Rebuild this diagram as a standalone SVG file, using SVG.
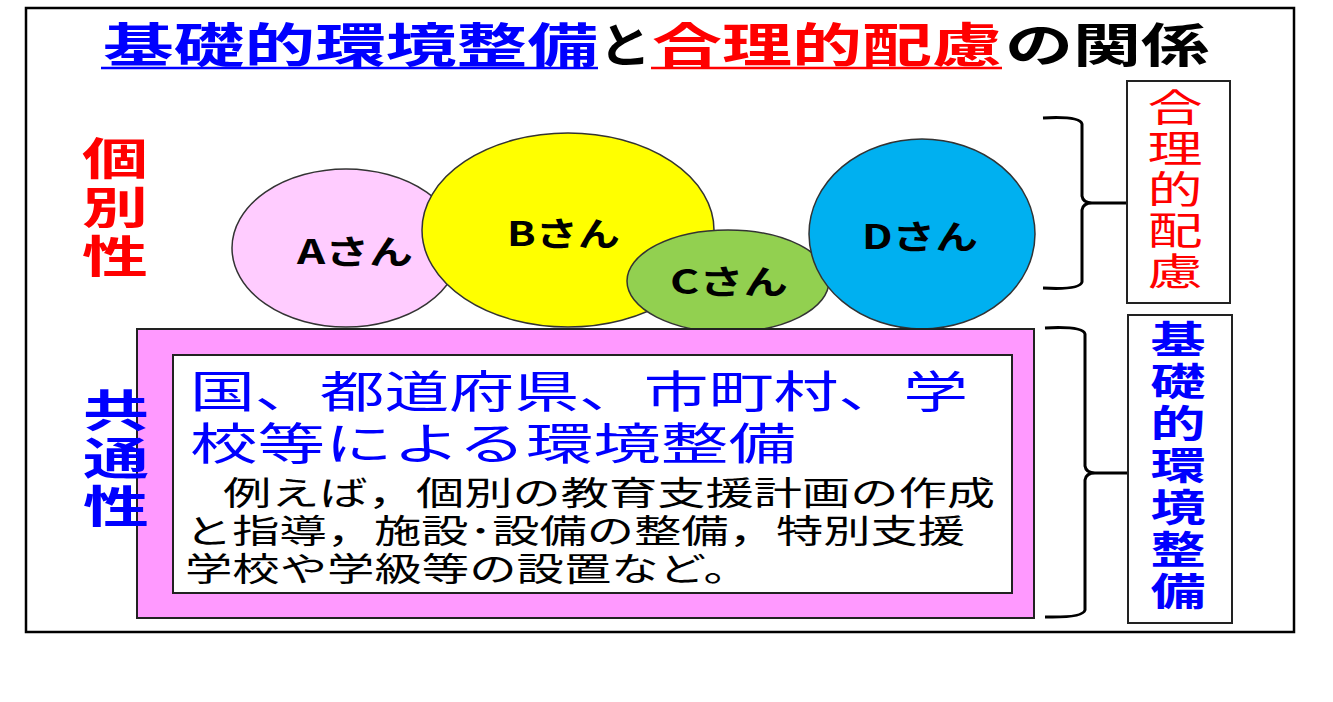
<svg xmlns="http://www.w3.org/2000/svg" width="1333" height="702" viewBox="0 0 1333 702">
<style>
text{font-family:"Noto Sans CJK JP","Noto Sans CJK SC",sans-serif}
.tight{font-family:"Liberation Sans","Noto Sans CJK JP","Noto Sans CJK SC",sans-serif}
.b{font-weight:bold}
.blue{fill:#0000FF}
.red{fill:#FF0000}
.blk{fill:#000}
.vert{writing-mode:vertical-rl}
.circ{stroke:#333;stroke-width:1.5}
.brace{fill:none;stroke:#000;stroke-width:3;stroke-linejoin:round}
.frame{fill:#fff;stroke:#222;stroke-width:2}
</style>
<rect x="0" y="0" width="1333" height="702" fill="#fff"/>
<rect x="26" y="8" width="1268" height="624" fill="#fff" stroke="#000" stroke-width="2.5"/>

<g id="title">
  <text x="103" y="62" font-size="47" class="b blue" textLength="495" lengthAdjust="spacingAndGlyphs">基礎的環境整備</text>
  <line x1="101" y1="68" x2="598" y2="68" stroke="#0000FF" stroke-width="2.5"/>
  <text x="599" y="62" font-size="47" class="b blk" textLength="52" lengthAdjust="spacingAndGlyphs">と</text>
  <text x="652" y="62" font-size="47" class="b red" textLength="350" lengthAdjust="spacingAndGlyphs">合理的配慮</text>
  <line x1="651" y1="68" x2="1002" y2="68" stroke="#FF0000" stroke-width="2.5"/>
  <text x="1005" y="62" font-size="47" class="b blk" textLength="204" lengthAdjust="spacingAndGlyphs">の関係</text>
</g>

<g id="label-kobetsu">
  <text class="b red vert" font-size="44" letter-spacing="5" x="0" y="136" transform="translate(115,0) scale(1.5,1)">個別性</text>
</g>

<g id="person-a">
  <ellipse class="circ" cx="346" cy="248" rx="114" ry="79" fill="#FFCCFF"/>
  <text x="297" y="264" font-size="33" class="b blk" textLength="116" lengthAdjust="spacingAndGlyphs">Aさん</text>
</g>
<g id="person-b">
  <ellipse class="circ" cx="568" cy="230" rx="146" ry="97" fill="#FFFF00"/>
  <text x="507" y="246" font-size="33" class="b blk" textLength="113" lengthAdjust="spacingAndGlyphs">Bさん</text>
</g>
<g id="person-c">
  <ellipse class="circ" cx="728" cy="281" rx="101" ry="51" fill="#92D050"/>
  <text x="670" y="294" font-size="33" class="b blk" textLength="118" lengthAdjust="spacingAndGlyphs">Cさん</text>
</g>
<g id="person-d">
  <ellipse class="circ" cx="922" cy="234" rx="113" ry="95" fill="#00B0F0"/>
  <text x="862" y="249" font-size="33" class="b blk" textLength="116" lengthAdjust="spacingAndGlyphs">Dさん</text>
</g>

<g id="common-box">
  <rect x="137" y="329" width="897" height="289" fill="#FF99FF" stroke="#222" stroke-width="2"/>
  <rect x="173" y="355" width="839" height="238" fill="#fff" stroke="#222" stroke-width="2"/>
  <text x="190" y="408" font-size="44" class="tight blue" textLength="778" lengthAdjust="spacingAndGlyphs">国、都道府県、市町村、学</text>
  <text x="190" y="460" font-size="44" class="tight blue" textLength="606" lengthAdjust="spacingAndGlyphs">校等による環境整備</text>
  <text x="223" y="505" font-size="33" class="tight blk" textLength="772" lengthAdjust="spacingAndGlyphs">例えば，個別の教育支援計画の作成</text>
  <text x="185" y="543" font-size="33" class="tight blk" textLength="780" lengthAdjust="spacingAndGlyphs">と指導，施設･設備の整備，特別支援</text>
  <text x="185" y="581" font-size="33" class="tight blk" textLength="566" lengthAdjust="spacingAndGlyphs">学校や学級等の設置など。</text>
</g>

<g id="label-kyotsu">
  <text class="b blue vert" font-size="44" letter-spacing="4" x="0" y="388" transform="translate(116,0) scale(1.5,1)">共通性</text>
</g>

<g id="connectors">
  <path class="brace" d="M1043,118 Q1080,116 1082,124 L1082,196 Q1083,203 1092,203 L1126,203 M1092,203 Q1083,203 1082,210 L1082,282 Q1080,290 1043,288"/>
  <path class="brace" d="M1045,328 Q1083,326 1085,334 L1085,466 Q1086,473 1095,473 L1128,473 M1095,473 Q1086,473 1085,480 L1085,610 Q1083,618 1045,617"/>
</g>

<g id="box-gouri">
  <rect class="frame" x="1127" y="81" width="103" height="222"/>
  <text class="red vert" font-size="38" letter-spacing="3" x="0" y="88" transform="translate(1175,0) scale(1.45,1)">合理的配慮</text>
</g>

<g id="box-kiso">
  <rect class="frame" x="1128" y="315" width="104" height="308"/>
  <text class="b blue vert" font-size="38" letter-spacing="4" x="0" y="320" transform="translate(1178,0) scale(1.45,1)">基礎的環境整備</text>
</g>
</svg>
